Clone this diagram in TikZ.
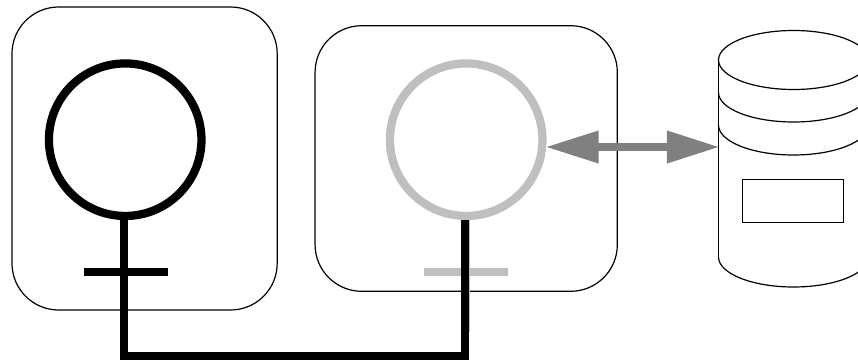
\documentclass[tikz,border=0pt]{standalone}
\usetikzlibrary{arrows.meta}
\tikzset{
  panel/.style={draw=black,line width=.9pt,rounded corners=35pt,minimum height=227.25pt,inner sep=0pt,outer sep=0pt},
  ring/.style={circle,draw,line width=6.2pt,minimum size=114.4pt,inner sep=0pt,outer sep=0pt},
  heavy/.style={line width=6pt},
  thin part/.style={draw=black,line width=.9pt},
}
\definecolor{ringgrey}{RGB}{191,191,191}
\definecolor{arrowgrey}{RGB}{128,128,128}
\begin{document}
\begin{tikzpicture}[x=.75pt,y=-.75pt]
\useasboundingbox (0,0) rectangle (858,360);
% panels
\node[panel,minimum width=198.9pt] (boxa) at (144.6,158.5) {};
\node[panel,minimum width=226.7pt,minimum height=199.2pt] (boxb) at (466.2,158.5) {};
% database
\begin{scope}
\clip (0,0) rectangle (858,360);
\draw[thin part] (793.5,60) ellipse [x radius=75,y radius=29.5];
\coordinate (dbl) at (719.6,147);
\draw[thin part] (718.5,60) -- (718.5,257);
\draw[thin part] (718.5,257) arc [start angle=180,end angle=360,x radius=75,y radius=-30];
\draw[thin part] (718.5,92.5) arc [start angle=180,end angle=360,x radius=75,y radius=-29.5];
\draw[thin part] (718.5,125) arc [start angle=180,end angle=360,x radius=75,y radius=-30];
\end{scope}
\node[thin part,minimum width=75.75pt,minimum height=32.25pt,inner sep=0pt,outer sep=0pt] (slot) at (793.2,201.2) {};
% grey symbol
\node[ring,draw=ringgrey] (rb) at (466.2,139.7) {};
\coordinate (sb) at (465.5,219);
\coordinate (sbe) at (465.5,332);
\coordinate (bbl) at (424,272);
\coordinate (bbr) at (508,272);
\draw[heavy,draw=ringgrey] (sb) -- (sbe);
\draw[heavy,draw=ringgrey] (bbl) -- (bbr);
% black symbol
\node[ring,draw=black] (ra) at (125.2,139.7) {};
\coordinate (sa) at (124.3,219);
\coordinate (cal) at (84,272);
\coordinate (car) at (167.7,272);
\draw[heavy] (cal) -- (car);
% link
\coordinate (ja) at (124.3,356.3);
\coordinate (jb) at (464.5,356.3);
\coordinate (ta) at (464.5,219.5);
\draw[heavy,line join=miter] (sa) -- (ja) -- (jb) -- (ta);
% double arrow
\coordinate (arl) at (545.6,147);
\draw[draw=arrowgrey,line width=6pt,{Triangle[length=39.8pt,width=23pt,fill=arrowgrey]}-{Triangle[length=39.5pt,width=23pt,fill=arrowgrey]}] (arl) -- (dbl);
\end{tikzpicture}
\end{document}
